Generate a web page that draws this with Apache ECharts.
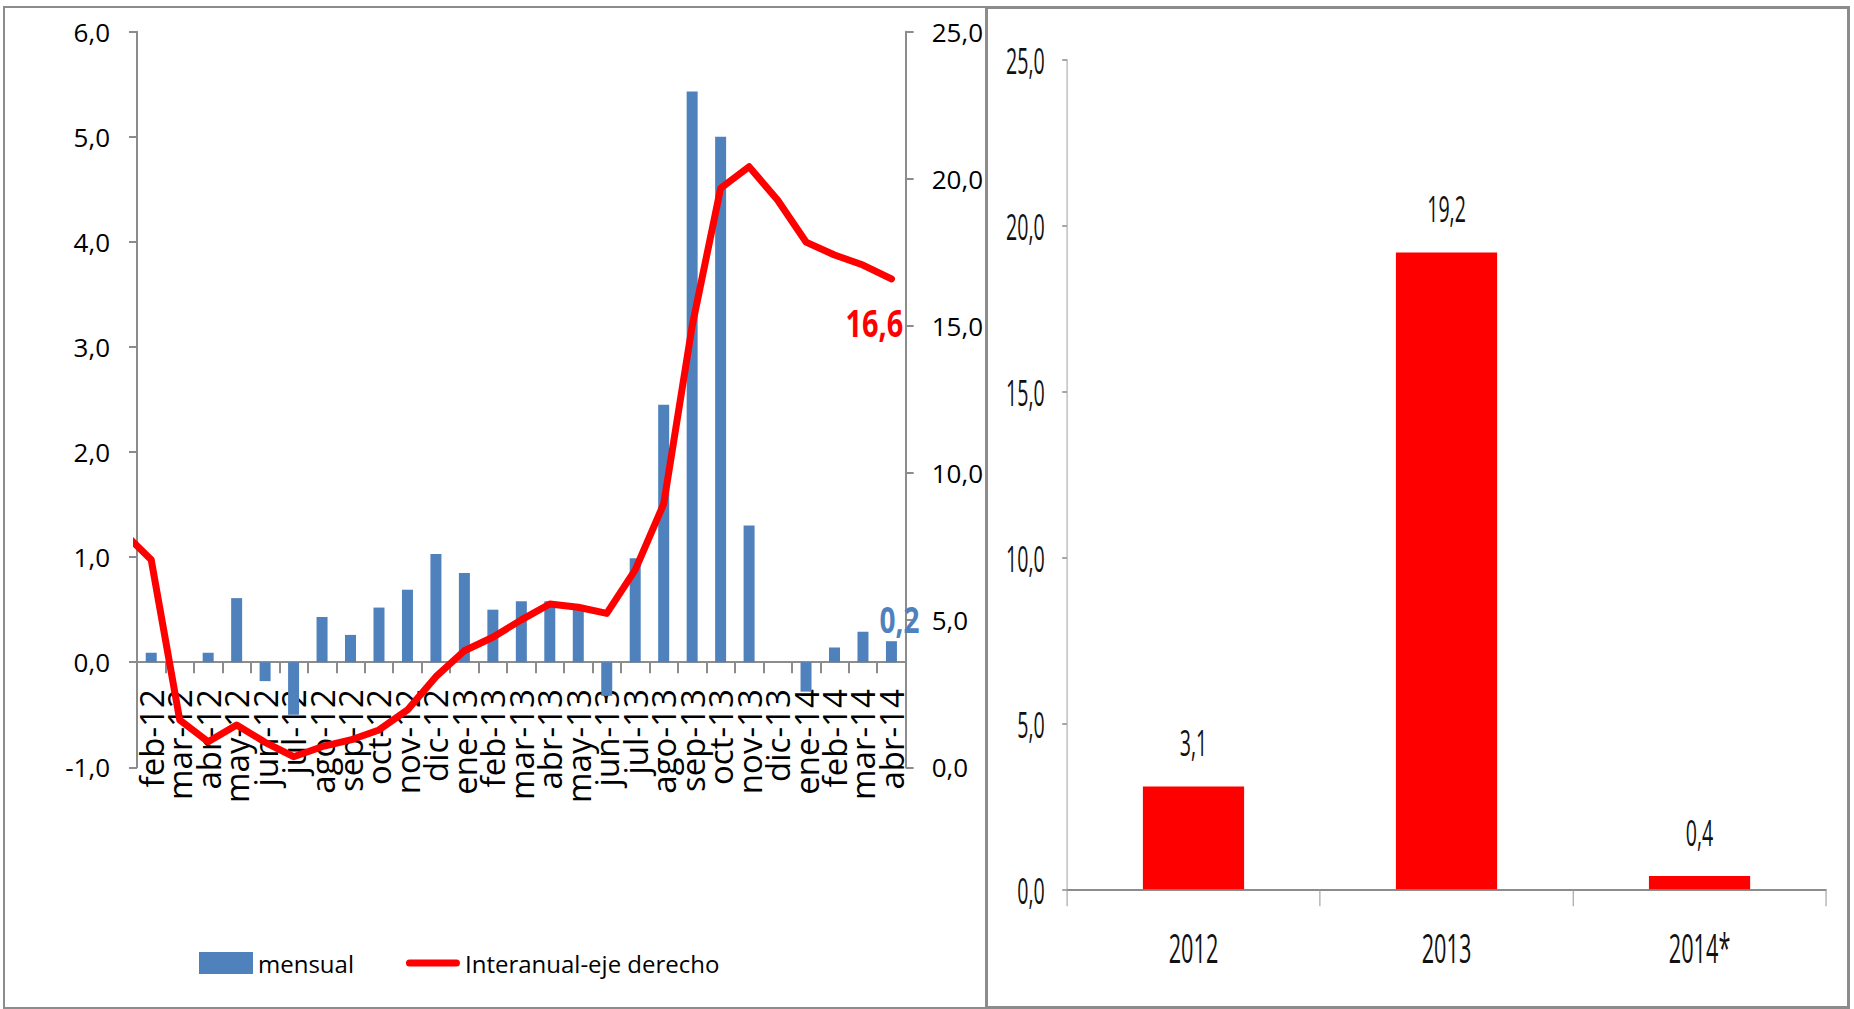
<!DOCTYPE html>
<html>
<head>
<meta charset="utf-8">
<script src="https://cdn.jsdelivr.net/npm/echarts@6/dist/echarts.min.js"></script>
<style>
html,body{margin:0;padding:0;background:#fff;width:1854px;height:1009px;overflow:hidden;}
#left{position:absolute;left:0;top:0;width:986px;height:1009px;}
#right{position:absolute;left:986px;top:0;width:1638px;height:1009px;transform:scaleX(0.53);transform-origin:0 0;}
.box{position:absolute;box-sizing:border-box;border:3px solid #8c8c8c;pointer-events:none;}
</style>
</head>
<body>
<div id="left"></div>
<div id="right"></div>
<div class="box" style="left:3px;top:6px;width:985px;height:1003px;border-width:2px;"></div>
<div class="box" style="left:985px;top:6px;width:865px;height:1003px;"></div>
<script>
// ---- Data (left panel) ----
const months = ['feb-12','mar-12','abr-12','may-12','jun-12','jul-12','ago-12','sep-12','oct-12','nov-12','dic-12',
  'ene-13','feb-13','mar-13','abr-13','may-13','jun-13','jul-13','ago-13','sep-13','oct-13','nov-13','dic-13',
  'ene-14','feb-14','mar-14','abr-14'];
const mensual = [0.09, 0.0, 0.09, 0.61, -0.18, -0.50, 0.43, 0.26, 0.52, 0.69, 1.03,
  0.85, 0.50, 0.58, 0.58, 0.50, -0.32, 0.99, 2.45, 5.43, 5.00, 1.30, 0.0,
  -0.28, 0.14, 0.29, 0.2];
const interanual = [7.05, 1.61, 0.87, 1.44, 0.85, 0.36, 0.70, 0.93, 1.27, 1.95, 3.08,
  3.96, 4.42, 5.01, 5.55, 5.44, 5.23, 6.71, 8.95, 15.0, 19.68, 20.41, 19.28,
  17.85, 17.41, 17.07, 16.6];
const interanualEne12 = 8.0; // previous month (ene-12), lies just outside the plotted range
const leftAxis = {min: -1, max: 6, interval: 1};
const rightAxis = {min: 0, max: 25, interval: 5};

// ---- Data (right panel) ----
const years = ['2012', '2013', '2014*'];
const anual = [3.1, 19.2, 0.4];
const anualAxis = {min: 0, max: 25, interval: 5};

const fmt = v => Number(v).toFixed(1).replace('.', ',');
const FONT = "'Open Sans', 'Noto Sans', sans-serif";
const GRAY = '#8c8c8c';
const GRID_H = 735.6;
const last = months.length - 1;

const lineData = [[-0.5, interanualEne12]].concat(interanual.map((v, i) => [i + 0.5, v]));

// x axis sits on the zero of the left axis
const xOffset = -((0 - leftAxis.min) / (leftAxis.max - leftAxis.min)) * GRID_H;

const leftChart = echarts.init(document.getElementById('left'), null, {renderer: 'svg'});
leftChart.setOption({
  animation: false,
  grid: {left: 137, top: 31.7, width: 769, height: GRID_H},
  legend: {
    left: 199, top: 951, padding: 0, itemWidth: 54, itemHeight: 22, itemGap: 52,
    textStyle: {fontSize: 24, fontFamily: FONT, color: '#000'},
    data: [
      {name: 'mensual', icon: 'rect'},
      {name: 'Interanual-eje derecho', icon: 'path://M3.5,0 L50.5,0 A3.5,3.5 0 0 1 50.5,7 L3.5,7 A3.5,3.5 0 0 1 3.5,0 Z'}
    ]
  },
  xAxis: [{
    type: 'category', data: months, boundaryGap: true, offset: xOffset,
    axisLine: {onZero: false, lineStyle: {color: GRAY, width: 2}},
    axisTick: {show: true, length: 11, lineStyle: {color: GRAY, width: 2}},
    axisLabel: {rotate: 90, interval: 0, margin: 27, fontSize: 33, fontFamily: FONT, color: '#000'},
    splitLine: {show: false}
  }, {
    type: 'value', min: 0, max: months.length, show: false
  }],
  yAxis: [{
    type: 'value', position: 'left', min: leftAxis.min, max: leftAxis.max, interval: leftAxis.interval,
    axisLine: {show: true, onZero: false, lineStyle: {color: GRAY, width: 2}},
    axisTick: {show: true, length: 8, lineStyle: {color: GRAY, width: 2}},
    axisLabel: {formatter: fmt, fontSize: 26, fontFamily: FONT, color: '#000', margin: 27},
    splitLine: {show: false}
  }, {
    type: 'value', position: 'right', min: rightAxis.min, max: rightAxis.max, interval: rightAxis.interval,
    axisLine: {show: true, onZero: false, lineStyle: {color: GRAY, width: 2}},
    axisTick: {show: true, length: 8, lineStyle: {color: GRAY, width: 2}},
    axisLabel: {formatter: fmt, fontSize: 26, fontFamily: FONT, color: '#000', margin: 26},
    splitLine: {show: false}
  }],
  series: [{
    name: 'mensual', type: 'bar', xAxisIndex: 0, yAxisIndex: 0, barWidth: 11,
    itemStyle: {color: '#4F81BD'}, data: mensual, z: 2
  }, {
    name: 'Interanual-eje derecho', type: 'line', xAxisIndex: 1, yAxisIndex: 1,
    symbol: 'none', clip: true,
    lineStyle: {color: '#FF0000', width: 7, cap: 'round', join: 'round'},
    itemStyle: {color: '#FF0000'}, data: lineData, z: 3
  }, {
    // end label of the last monthly bar
    type: 'custom', xAxisIndex: 0, yAxisIndex: 0, silent: true, z: 6,
    data: [[last, mensual[last]]],
    renderItem: (params, api) => {
      const p = api.coord([api.value(0), api.value(1)]);
      return {type: 'text', x: p[0] + 8, y: p[1] - 22, scaleX: 0.8,
        style: {text: fmt(api.value(1)), fill: '#4F81BD', font: "bold 35px 'Open Sans'", align: 'center', verticalAlign: 'middle'}};
    }
  }, {
    // end label of the year-on-year line
    type: 'custom', xAxisIndex: 1, yAxisIndex: 1, silent: true, z: 6,
    data: [[last + 0.5, interanual[last]]],
    renderItem: (params, api) => {
      const p = api.coord([api.value(0), api.value(1)]);
      return {type: 'text', x: p[0] - 17, y: p[1] + 44, scaleX: 0.76,
        style: {text: fmt(api.value(1)), fill: '#FF0000', font: "bold 38px 'Open Sans'", align: 'center', verticalAlign: 'middle'}};
    }
  }]
});

const rightChart = echarts.init(document.getElementById('right'), null, {renderer: 'svg'});
rightChart.setOption({
  animation: false,
  grid: {left: 152.8, right: 53, top: 60, bottom: 119.7},
  xAxis: {
    type: 'category', data: years,
    axisLine: {lineStyle: {color: GRAY, width: 2}},
    axisTick: {show: true, length: 17, lineStyle: {color: '#9a9a9a', width: 2}},
    axisLabel: {fontSize: 41, fontFamily: FONT, color: '#111', margin: 38}
  },
  yAxis: {
    type: 'value', min: anualAxis.min, max: anualAxis.max, interval: anualAxis.interval,
    axisLine: {show: true, lineStyle: {color: '#a6a6a6', width: 2}},
    axisTick: {show: true, length: 9, lineStyle: {color: '#a6a6a6', width: 2}},
    axisLabel: {formatter: fmt, fontSize: 37, fontFamily: FONT, color: '#111', margin: 42},
    splitLine: {show: false}
  },
  series: [{
    type: 'bar', data: anual, barWidth: '40%', itemStyle: {color: '#FF0000'},
    label: {show: true, position: 'top', distance: 26, formatter: p => fmt(p.value),
      fontSize: 37, fontFamily: FONT, color: '#111'}
  }]
});
</script>
</body>
</html>
